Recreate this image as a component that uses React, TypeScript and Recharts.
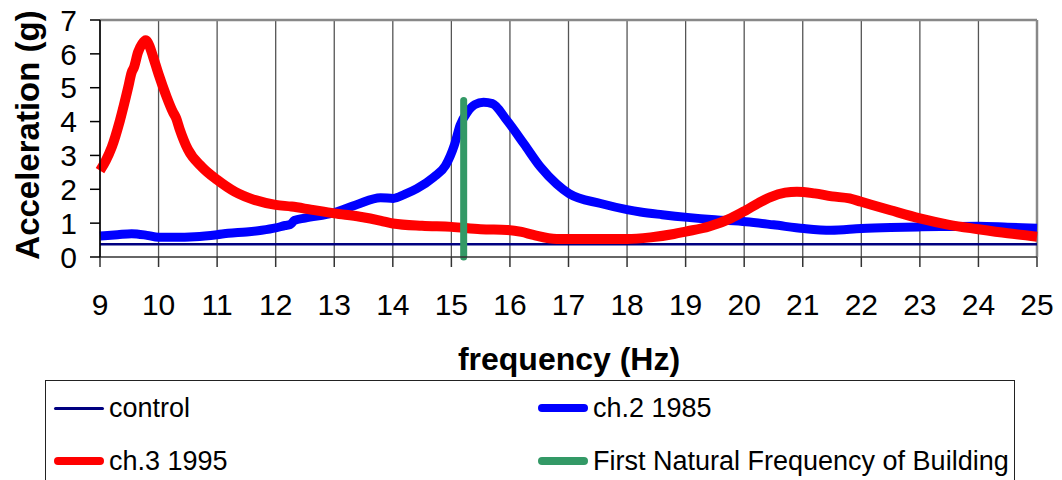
import {
  CartesianGrid,
  Line,
  LineChart,
  ReferenceLine,
  XAxis,
  YAxis,
} from "recharts";

// frequency (Hz) and acceleration (g)
const ch3Freq = [
  9.0, 9.1, 9.2, 9.34, 9.48, 9.54, 9.58, 9.65, 9.72, 9.78, 9.84, 9.9, 10.0,
  10.14, 10.24, 10.3, 10.36, 10.5, 10.74, 11.0, 11.3, 11.65, 12.0, 12.27, 12.6,
  13.0, 13.44, 13.8, 14.0, 14.5, 15.0, 15.5, 15.95, 16.2, 16.4, 16.8, 17.0,
  17.5, 18.0, 18.4, 18.8, 19.0, 19.4, 19.77, 20.03, 20.25, 20.45, 20.7, 20.9,
  21.2, 21.5, 21.8, 22.0, 22.5, 23.0, 23.5, 24.0, 24.5, 25.0,
];
const ch3Acc = [
  2.55, 2.85, 3.24, 4.03, 5.0, 5.45, 5.6, 6.05, 6.3, 6.4, 6.25, 5.95, 5.4,
  4.72, 4.3, 4.1, 3.78, 3.18, 2.66, 2.28, 1.93, 1.68, 1.54, 1.49, 1.4, 1.29,
  1.19, 1.07, 0.99, 0.92, 0.89, 0.82, 0.8, 0.74, 0.65, 0.53, 0.53, 0.53, 0.53,
  0.58, 0.68, 0.75, 0.9, 1.14, 1.38, 1.6, 1.77, 1.9, 1.93, 1.88, 1.79, 1.73,
  1.63, 1.38, 1.14, 0.95, 0.82, 0.7, 0.6,
];

const ch2Freq = [
  9.0, 9.3, 9.54, 9.8, 10.0, 10.3, 10.62, 11.0, 11.19, 11.5, 11.76, 12.0,
  12.16, 12.25, 12.32, 12.5, 12.99, 13.39, 13.79, 14.01, 14.2, 14.41, 14.7,
  14.9, 15.05, 15.15, 15.27, 15.4, 15.55, 15.7, 15.95, 16.24, 16.52, 16.8,
  17.01, 17.55, 18.0, 18.23, 18.6, 19.03, 19.5, 20.03, 20.5, 21.02, 21.48, 22.0,
  22.5, 23.02, 23.5, 24.0, 24.5, 25.0,
];
const ch2Acc = [
  0.62, 0.66, 0.69, 0.64, 0.58, 0.58, 0.6, 0.66, 0.7, 0.74, 0.79, 0.86, 0.93,
  0.96, 1.08, 1.15, 1.3, 1.55, 1.75, 1.73, 1.85, 2.02, 2.36, 2.7, 3.3, 3.9,
  4.27, 4.5, 4.57, 4.53, 4.03, 3.34, 2.66, 2.15, 1.87, 1.58, 1.4, 1.33, 1.25,
  1.17, 1.1, 1.04, 0.95, 0.84, 0.79, 0.84, 0.87, 0.89, 0.9, 0.91, 0.88, 0.85,
];

const controlFreq = [9, 25];
const controlAcc = [0.38, 0.38];

const naturalFreq = [15.21, 15.21];
const naturalAcc = [0, 4.62];

const xTicks = [9, 10, 11, 12, 13, 14, 15, 16, 17, 18, 19, 20, 21, 22, 23, 24, 25];
const yTicks = [0, 1, 2, 3, 4, 5, 6, 7];

const toRows = (fs: number[], vs: number[]) => fs.map((f, i) => ({ f, v: vs[i] }));

const FONT = '"Liberation Sans", Arial, sans-serif';

const legendItems = [
  { name: "control", color: "#000080", width: 3, left: 8, top: 27 },
  { name: "ch.2 1985", color: "#0000FF", width: 8, left: 492, top: 27 },
  { name: "ch.3 1995", color: "#FF0000", width: 8, left: 8, top: 80 },
  { name: "First Natural Frequency of Building", color: "#339966", width: 8, left: 492, top: 80 },
];

const App = () => {
  return (
    <div style={{ position: "absolute", left: 0, top: 0, width: 1062, height: 480, background: "#fff", fontFamily: FONT }}>
      <LineChart width={1062} height={480} margin={{ top: 20, right: 25, bottom: 0, left: 0 }}>
        <CartesianGrid horizontal={false} stroke="#555" strokeWidth={1.3} />
        <XAxis
          type="number"
          dataKey="f"
          domain={[9, 25]}
          ticks={xTicks}
          interval={0}
          height={223}
          stroke="#333"
          strokeWidth={1.5}
          tickSize={10}
          tickMargin={27}
          tick={{ fill: "#000", fontSize: 30, fontFamily: FONT }}
          label={{
            content: () => (
              <text x={569} y={370} textAnchor="middle" fontSize={32} fontWeight="bold" fontFamily={FONT} fill="#000">
                frequency (Hz)
              </text>
            ),
          }}
        />
        <YAxis
          type="number"
          domain={[0, 7]}
          ticks={yTicks}
          interval={0}
          width={100}
          stroke="#000"
          strokeWidth={1.5}
          tickSize={10}
          tickMargin={13}
          tick={{ fill: "#000", fontSize: 30, fontFamily: FONT }}
          label={{
            content: () => (
              <text
                x={27}
                y={135}
                textAnchor="middle"
                dominantBaseline="central"
                transform="rotate(-90, 27, 135)"
                fontSize={33}
                fontWeight="bold"
                fontFamily={FONT}
                fill="#000"
              >
                Acceleration (g)
              </text>
            ),
          }}
        />
        <ReferenceLine y={7} stroke="#888" strokeWidth={2.5} />
        <ReferenceLine x={25} stroke="#888" strokeWidth={2.5} />
        <Line
          data={toRows(controlFreq, controlAcc)}
          dataKey="v"
          stroke="#000080"
          strokeWidth={2.5}
          dot={false}
          isAnimationActive={false}
        />
        <Line
          data={toRows(ch2Freq, ch2Acc)}
          dataKey="v"
          type="monotone"
          stroke="#0000FF"
          strokeWidth={9}
          strokeLinejoin="round"
          dot={false}
          isAnimationActive={false}
        />
        <Line
          data={toRows(ch3Freq, ch3Acc)}
          dataKey="v"
          type="monotone"
          stroke="#FF0000"
          strokeWidth={10}
          strokeLinejoin="round"
          dot={false}
          isAnimationActive={false}
        />
        <Line
          data={toRows(naturalFreq, naturalAcc)}
          dataKey="v"
          stroke="#339966"
          strokeWidth={7}
          strokeLinecap="round"
          dot={false}
          isAnimationActive={false}
        />
      </LineChart>
      <div
        style={{
          position: "absolute",
          left: 45,
          top: 380,
          width: 970,
          height: 110,
          border: "1px solid #222",
          boxSizing: "border-box",
        }}
      >
        {legendItems.map((it) => (
          <div
            key={it.name}
            style={{ position: "absolute", left: it.left, top: it.top, height: 0, display: "flex", alignItems: "center" }}
          >
            <div
              style={{
                width: 50,
                height: it.width,
                background: it.color,
                borderRadius: it.width / 2,
              }}
            />
            <span style={{ fontSize: 27, marginLeft: 5, whiteSpace: "nowrap", color: "#000" }}>{it.name}</span>
          </div>
        ))}
      </div>
    </div>
  );
};

export default App;
